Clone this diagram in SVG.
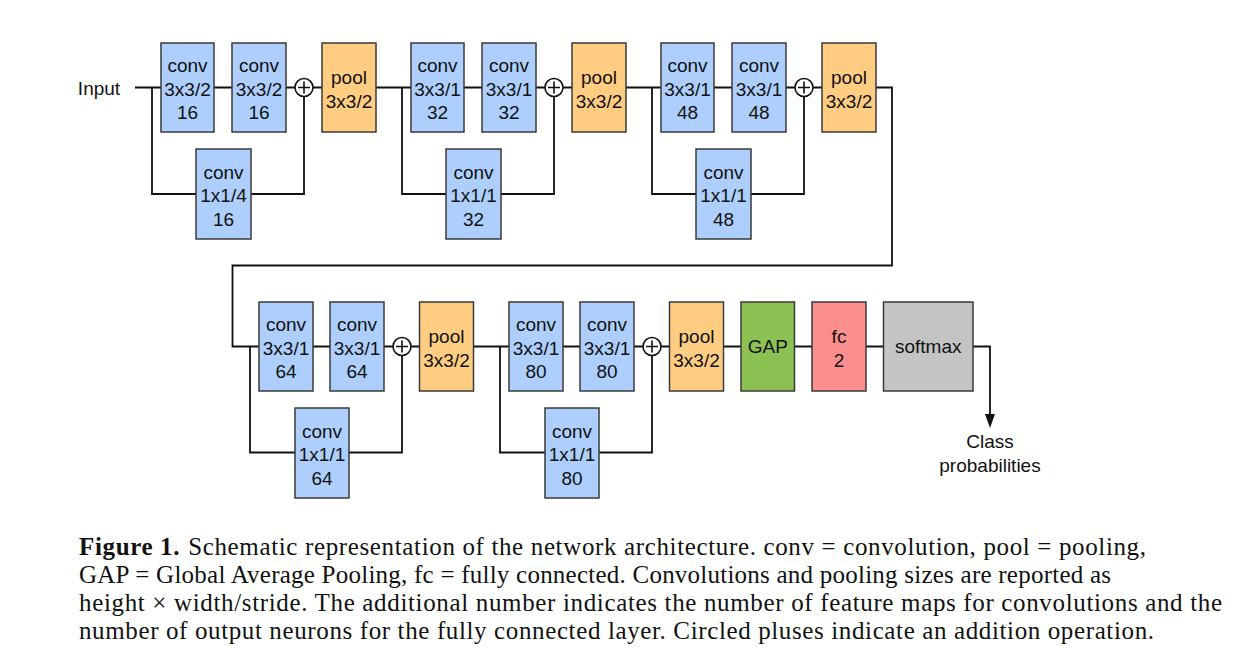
<svg xmlns="http://www.w3.org/2000/svg" width="1250" height="665" viewBox="0 0 1250 665">
<style>
.c{fill:#aecffd;stroke:#3a3a3a;stroke-width:1.5}
.p{fill:#ffcd82;stroke:#3a3a3a;stroke-width:1.5}
.g{fill:#8dc153;stroke:#3a3a3a;stroke-width:1.5}
.f{fill:#fb8e8e;stroke:#3a3a3a;stroke-width:1.5}
.s{fill:#c4c4c4;stroke:#3a3a3a;stroke-width:1.5}
.ln{fill:none;stroke:#111;stroke-width:1.8}
.pl{fill:#fff;stroke:#111;stroke-width:1.6}
text{font-family:"Liberation Sans",Arial,sans-serif;font-size:19px;fill:#111;text-anchor:middle}
.cap{font-family:"Liberation Serif","Times New Roman",serif;font-size:25px;text-anchor:start;fill:#111}
</style>
<rect width="1250" height="665" fill="#fff"/>
<defs>
<g id="plus"><circle r="9" class="pl"/><path d="M-6 0H6M0 -6V6" stroke="#111" stroke-width="1.6"/></g>
</defs>
<g id="connectors">
<path class="ln" d="M135 87.5H892V265.5H232.5V346.5H990V420"/>
<polygon points="990,428 985,414 995,414" fill="#111"/>
<path class="ln" d="M152 87.5V194H304V87.5"/>
<path class="ln" d="M402 87.5V194H554V87.5"/>
<path class="ln" d="M652 87.5V194H804V87.5"/>
<path class="ln" d="M250 346.5V452.5H402V346.5"/>
<path class="ln" d="M500 346.5V452.5H652V346.5"/>
</g>
<text id="input" x="99" y="94.5" >Input</text>
<g id="r1b1">
<g id="n1a"><rect class="c" x="161" y="43" width="53" height="89"/><text x="187.5" y="72">conv</text><text x="187.5" y="95.5">3x3/2</text><text x="187.5" y="119">16</text></g>
<g id="n1b"><rect class="c" x="232" y="43" width="54" height="89"/><text x="259" y="72">conv</text><text x="259" y="95.5">3x3/2</text><text x="259" y="119">16</text></g>
<g id="n1c"><rect class="c" x="196" y="149" width="55" height="90"/><text x="223.5" y="178.5">conv</text><text x="223.5" y="202">1x1/4</text><text x="223.5" y="225.5">16</text></g>
<g id="add1"><use href="#plus" x="304" y="87.5"/></g>
<g id="pool1"><rect class="p" x="322" y="43" width="54" height="89"/><text x="349" y="84">pool</text><text x="349" y="107.5">3x3/2</text></g>
</g>
<g id="r1b2">
<g id="n2a"><rect class="c" x="411" y="43" width="53" height="89"/><text x="437.5" y="72">conv</text><text x="437.5" y="95.5">3x3/1</text><text x="437.5" y="119">32</text></g>
<g id="n2b"><rect class="c" x="482" y="43" width="54" height="89"/><text x="509" y="72">conv</text><text x="509" y="95.5">3x3/1</text><text x="509" y="119">32</text></g>
<g id="n2c"><rect class="c" x="446" y="149" width="55" height="90"/><text x="473.5" y="178.5">conv</text><text x="473.5" y="202">1x1/1</text><text x="473.5" y="225.5">32</text></g>
<g id="add2"><use href="#plus" x="554" y="87.5"/></g>
<g id="pool2"><rect class="p" x="572" y="43" width="54" height="89"/><text x="599" y="84">pool</text><text x="599" y="107.5">3x3/2</text></g>
</g>
<g id="r1b3">
<g id="n3a"><rect class="c" x="661" y="43" width="53" height="89"/><text x="687.5" y="72">conv</text><text x="687.5" y="95.5">3x3/1</text><text x="687.5" y="119">48</text></g>
<g id="n3b"><rect class="c" x="732" y="43" width="54" height="89"/><text x="759" y="72">conv</text><text x="759" y="95.5">3x3/1</text><text x="759" y="119">48</text></g>
<g id="n3c"><rect class="c" x="696" y="149" width="55" height="90"/><text x="723.5" y="178.5">conv</text><text x="723.5" y="202">1x1/1</text><text x="723.5" y="225.5">48</text></g>
<g id="add3"><use href="#plus" x="804" y="87.5"/></g>
<g id="pool3"><rect class="p" x="822" y="43" width="54" height="89"/><text x="849" y="84">pool</text><text x="849" y="107.5">3x3/2</text></g>
</g>
<g id="r2b1">
<g id="n4a"><rect class="c" x="259" y="302" width="54" height="89"/><text x="286" y="331">conv</text><text x="286" y="354.5">3x3/1</text><text x="286" y="378">64</text></g>
<g id="n4b"><rect class="c" x="330" y="302" width="54" height="89"/><text x="357" y="331">conv</text><text x="357" y="354.5">3x3/1</text><text x="357" y="378">64</text></g>
<g id="n4c"><rect class="c" x="295" y="408" width="54" height="90"/><text x="322" y="437.5">conv</text><text x="322" y="461">1x1/1</text><text x="322" y="484.5">64</text></g>
<g id="add4"><use href="#plus" x="402" y="346.5"/></g>
<g id="pool4"><rect class="p" x="419.5" y="302" width="54" height="89"/><text x="446.5" y="343">pool</text><text x="446.5" y="366.5">3x3/2</text></g>
</g>
<g id="r2b2">
<g id="n5a"><rect class="c" x="509" y="302" width="54" height="89"/><text x="536" y="331">conv</text><text x="536" y="354.5">3x3/1</text><text x="536" y="378">80</text></g>
<g id="n5b"><rect class="c" x="580" y="302" width="54" height="89"/><text x="607" y="331">conv</text><text x="607" y="354.5">3x3/1</text><text x="607" y="378">80</text></g>
<g id="n5c"><rect class="c" x="545" y="408" width="54" height="90"/><text x="572" y="437.5">conv</text><text x="572" y="461">1x1/1</text><text x="572" y="484.5">80</text></g>
<g id="add5"><use href="#plus" x="652" y="346.5"/></g>
<g id="pool5"><rect class="p" x="669.5" y="302" width="54" height="89"/><text x="696.5" y="343">pool</text><text x="696.5" y="366.5">3x3/2</text></g>
</g>
<g id="gap"><rect class="g" x="741" y="302" width="53.5" height="89"/><text x="767.75" y="353">GAP</text></g>
<g id="fc"><rect class="f" x="812" y="302" width="54" height="89"/><text x="839" y="343">fc</text><text x="839" y="366.5">2</text></g>
<g id="softmax"><rect class="s" x="883.5" y="302" width="89.5" height="89"/><text x="928.25" y="353">softmax</text></g>
<g id="output"><text x="990" y="447.5">Class</text><text x="990" y="471.5">probabilities</text></g>
<g id="caption">
<text class="cap" x="79" y="555" textLength="1067" lengthAdjust="spacing"><tspan font-weight="bold">Figure 1.</tspan><tspan dx="8">Schematic representation of the network architecture. conv = convolution, pool = pooling,</tspan></text>
<text class="cap" x="79" y="583" textLength="1032" lengthAdjust="spacing">GAP = Global Average Pooling, fc = fully connected. Convolutions and pooling sizes are reported as</text>
<text class="cap" x="79" y="611" textLength="1143" lengthAdjust="spacing">height × width/stride. The additional number indicates the number of feature maps for convolutions and the</text>
<text class="cap" x="79" y="639" textLength="1075" lengthAdjust="spacing">number of output neurons for the fully connected layer. Circled pluses indicate an addition operation.</text>
</g>
</svg>
